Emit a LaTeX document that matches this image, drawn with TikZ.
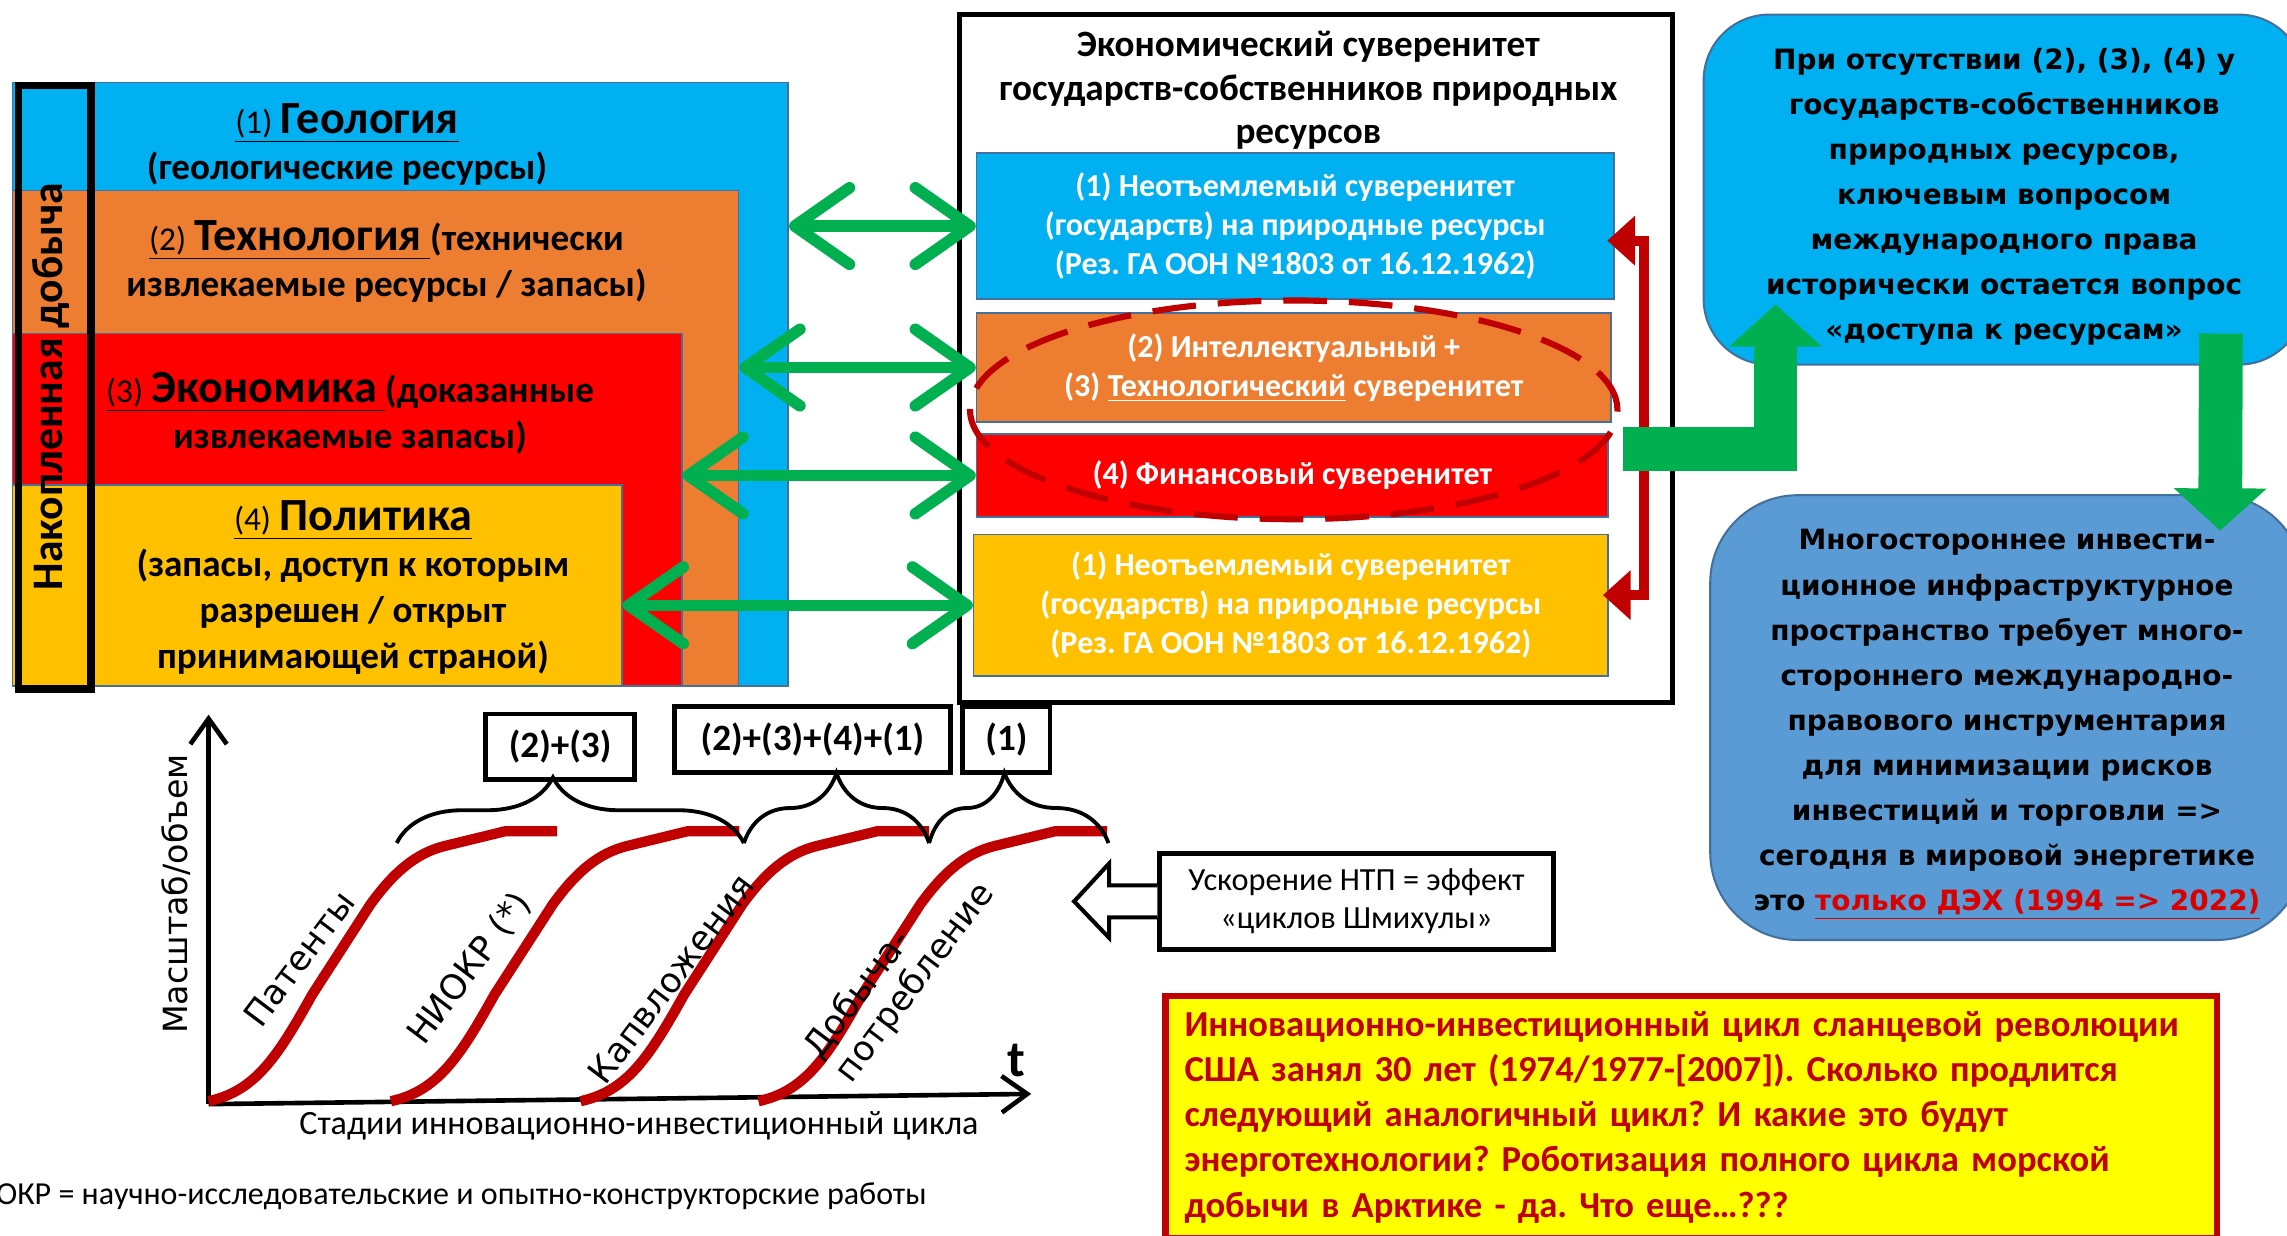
\documentclass[tikz,border=0pt]{standalone}
\usepackage{fontspec}
\setmainfont{Carlito}
\newfontfamily\verd{DejaVu Sans}
\usetikzlibrary{arrows.meta,positioning,calc,decorations.pathreplacing,shapes.geometric}
\definecolor{skyb}{HTML}{00B0F0}
\definecolor{orng}{HTML}{ED7D31}
\definecolor{gold}{HTML}{FFC000}
\definecolor{dred}{HTML}{C00000}
\definecolor{grn}{HTML}{00B050}
\definecolor{steel}{HTML}{41719C}
\definecolor{midb}{HTML}{5B9BD5}
\definecolor{lemon}{HTML}{FFFF00}
\tikzstyle{layer}=[draw=steel,line width=0.6pt,anchor=north west,inner sep=0pt]
\tikzstyle{lbl}=[font=\bfseries\fontsize{14.5}{18}\selectfont,align=center,inner sep=0pt]
\tikzstyle{sovbox}=[draw=steel,line width=0.6pt,text=white,align=center,font=\bfseries\fontsize{12.5}{15.3}\selectfont,inner sep=0pt]
\tikzstyle{bubble}=[draw=steel,line width=0.8pt,align=center,font=\verd\bfseries\fontsize{10.9}{17.6}\selectfont,inner sep=0pt]
\tikzstyle{dbl}=[grn,line width=4.5pt,line cap=round,{Straight Barb[round,length=0.75cm,width=1.05cm]}-{Straight Barb[round,length=0.75cm,width=1.05cm]}]
\tikzstyle{blk}=[grn,line width=0.6cm,line join=miter,-{Triangle[length=0.58cm,width=1.24cm]}]
\tikzstyle{rbr}=[dred,line width=4pt,line join=miter,{Triangle[length=0.38cm,width=0.66cm]}-{Triangle[length=0.38cm,width=0.66cm]}]
\tikzstyle{ovl}=[draw=dred,line width=2.4pt,dash pattern=on 0.6cm off 0.3cm,ellipse,minimum width=8.88cm,minimum height=3cm]
\tikzstyle{axis}=[line width=1.8pt,-{Straight Barb[length=0.35cm,width=0.5cm]}]
\tikzstyle{scurve}=[dred,line width=4pt]
\tikzstyle{stage}=[font=\verd\fontsize{13.5}{15}\selectfont,rotate=53,inner sep=0pt]
\tikzstyle{combo}=[draw,line width=1.8pt,font=\bfseries\fontsize{14.5}{15}\selectfont,minimum height=0.9cm,inner sep=0pt]
\tikzstyle{brc}=[line width=1.5pt,decorate,decoration={brace,amplitude=0.9cm}]

\begin{document}
\frenchspacing
\begin{tikzpicture}[x=0.02cm,y=-0.02cm]
  \clip (0,0) rectangle (1568,847);
  \fill[white] (0,0) rectangle (1568,847);
  \node[layer,fill=skyb,minimum width=10.64cm,minimum height=8.28cm] (geo) at (8,56) {};
  \node[layer,fill=orng,minimum width=9.96cm,minimum height=6.8cm] (tech) at (8,130) {};
  \node[layer,fill=red,minimum width=9.18cm,minimum height=4.84cm] (econ) at (8,228) {};
  \node[layer,fill=gold,minimum width=8.36cm,minimum height=2.76cm] (pol) at (8,332) {};
  \node[layer,draw=black,line width=2.8pt,minimum width=1cm,minimum height=8.28cm] (acc) at (10,56) {};
  \node[rotate=90,font=\bfseries\fontsize{17}{17}\selectfont] (acct) at (35,265) {Накопленная добыча};
  \node[lbl] (geot) at (238,99) {\underline{{\mdseries\fontsize{13}{13}\selectfont(1)} {\fontsize{18}{18}\selectfont Геология}}\\(геологические ресурсы)};
  \node[lbl] (techt) at (265,179) {\underline{{\mdseries\fontsize{13}{13}\selectfont(2)} {\fontsize{18}{18}\selectfont Технология}\ }(технически\\извлекаемые ресурсы / запасы)};
  \node[lbl] (econt) at (240,283) {\underline{{\mdseries\fontsize{13}{13}\selectfont(3)} {\fontsize{18}{18}\selectfont Экономика}\ }(доказанные\\извлекаемые запасы)};
  \node[lbl] (polt) at (242,403) {\underline{{\mdseries\fontsize{13}{13}\selectfont(4)} {\fontsize{18}{18}\selectfont Политика}}\\(запасы, доступ к которым\\разрешен / открыт\\принимающей страной)};

  \node[draw,line width=2pt,minimum width=9.78cm,minimum height=9.44cm,anchor=north west] (frame) at (656,8) {};
  \node[font=\bfseries\fontsize{14.5}{17}\selectfont,align=center] (ttl) at (897,62) {Экономический суверенитет\\государств-собственников природных\\ресурсов};
  \node[sovbox,fill=skyb,minimum width=8.74cm,minimum height=2cm] (s1) at (888,155) {(1) Неотъемлемый суверенитет\\(государств) на природные ресурсы\\(Рез. ГА ООН №1803 от 16.12.1962)};
  \node[sovbox,fill=orng,minimum width=8.7cm,minimum height=1.5cm] (s23) at (887,252) {(2) Интеллектуальный +\\(3) \underline{Технологический} суверенитет};
  \node[sovbox,fill=red,minimum width=8.66cm,minimum height=1.14cm] (s4) at (886,326) {(4) Финансовый суверенитет};
  \node[sovbox,fill=gold,minimum width=8.7cm,minimum height=1.94cm] (s1b) at (885,415) {(1) Неотъемлемый суверенитет\\(государств) на природные ресурсы\\(Рез. ГА ООН №1803 от 16.12.1962)};
  \node[ovl] (ring) at (887,281) {};
  \draw[rbr] ($(s1b.east)+(-4,-7)$) -- ++(28,0) |- ($(s1.east)+(-5,10)$);

  \node[bubble,fill=skyb,rounded corners=0.9cm,minimum width=8.24cm,minimum height=4.8cm] (q) at (1374,130) {\parbox{8cm}{\centering\vspace*{0.2cm}При отсутствии (2), (3), (4) у\\государств-собственников\\природных ресурсов,\\ключевым вопросом\\международного права\\исторически остается вопрос\\«доступа к ресурсам»}};
  \node[bubble,fill=midb,rounded corners=1.2cm,minimum width=8.14cm,minimum height=6.1cm] (m) at (1376,492) {\parbox{8cm}{\centering\vspace*{0.2cm}Многостороннее инвести-\\ционное инфраструктурное\\пространство требует много-\\стороннего международно-\\правового инструментария\\для минимизации рисков\\инвестиций и торговли =>\\сегодня в мировой энергетике\\это \textcolor{red!85!black}{\underline{только ДЭХ (1994 => 2022)}}}};
  \draw[blk] ($(s4.east)+(10,-18)$) -| ($(q.south west)+(50,-42)$);
  \draw[blk] ($(q.south east)+(-58,-22)$) -- ($(m.north east)+(-58,25)$);

  \draw[dbl] (geo.east |- s1.west) -- (s1.west);
  \draw[dbl] (tech.east |- s23.west) -- (s23.west);
  \draw[dbl] (econ.east |- s4.west) -- (s4.west);
  \draw[dbl] (pol.east |- s1b.west) -- (s1b.west);

  \coordinate (o) at (143,757);
  \coordinate (ytop) at (143,490);
  \coordinate (xend) at (707,750);
  \draw[axis] (o) -- (ytop);
  \draw[axis] (o) -- (xend);
  \foreach \dx in {0,125,255,377}
    \draw[scurve,shift={(\dx,0)}] (143,755) .. controls (175,748) and (190,725) .. (214,682) -- (254,620) .. controls (270,598) and (285,585) .. (305,580) -- (346,570) -- (382,570);
  \node[stage] (pat) at (205,657) {Патенты};
  \node[stage] (rnd) at (322,664) {НИОКР (*)};
  \node[stage] (cap) at (460,671) {Капвложения};
  \node[stage,align=left] (prod) at (617,666) {Добыча-\\потребление};
  \node[rotate=90,font=\verd\fontsize{13}{15}\selectfont] (ylab) at (121,613) {Масштаб/объем};
  \node[font=\bfseries\fontsize{20}{20}\selectfont] (tl) at (697,727) {t};
  \node[font=\fontsize{13.3}{14}\selectfont] (xl) at (438,772) {Стадии инновационно-инвестиционный цикла};

  \node[combo,minimum width=2.04cm] (c23) at (384,512) {(2)+(3)};
  \node[combo,minimum width=3.78cm] (c2341) at (557,507) {(2)+(3)+(4)+(1)};
  \node[combo,minimum width=1.2cm] (c1) at (690,507) {(1)};
  \draw[brc,decoration={aspect=0.45}] (272,578) -- (510,578);
  \draw[brc,decoration={amplitude=0.96cm}] (510,578) -- (637,578);
  \draw[brc,decoration={amplitude=0.96cm,aspect=0.42}] (637,578) -- (760,578);

  \node[draw,line width=1.8pt,minimum width=5.4cm,minimum height=1.32cm,align=center,font=\fontsize{12.6}{15}\selectfont] (nt) at (930,618) {Ускорение НТП = эффект\\«циклов Шмихулы»};
  \draw[line width=1.6pt,fill=white,shift={(nt.west)}] (0,-11) -- (-33,-11) -- (-33,-26) -- (-57,0) -- (-33,25) -- (-33,11) -- (0,11);

  \node[draw=dred,line width=2.4pt,fill=lemon,anchor=north west,text width=13.9cm,inner xsep=0.26cm,inner ysep=0.21cm,align=left,text=dred,font=\bfseries\fontsize{14.3}{17.6}\selectfont] (note) at (797,681) {Инновационно-инвестиционный цикл сланцевой революции\\США занял 30 лет (1974/1977-[2007]). Сколько продлится\\следующий аналогичный цикл? И какие это будут\\энерготехнологии? Роботизация полного цикла морской\\добычи в Арктике - да. Что еще…???};
  \node[anchor=west,font=\fontsize{12.5}{13}\selectfont,inner sep=0pt] (fn) at (-3,820) {ОКР = научно-исследовательские и опытно-конструкторские работы};
\end{tikzpicture}
\end{document}
